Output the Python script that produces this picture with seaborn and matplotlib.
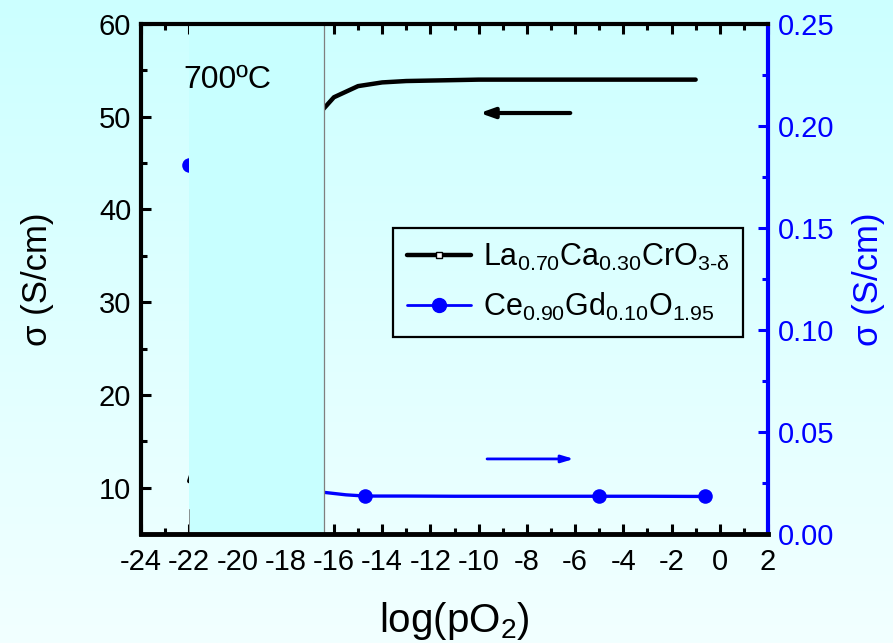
import numpy as np
import pandas as pd
import matplotlib
matplotlib.use("Agg")
import matplotlib.pyplot as plt
import seaborn as sns
from matplotlib.ticker import MultipleLocator
from matplotlib.lines import Line2D

# ---- data ----
la_x = [-22, -17, -16, -15, -14, -13, -12, -11, -10, -9, -8, -7, -6, -5, -4, -3, -2, -1]
la_y = [10.7, 49.2, 52.1, 53.3, 53.7, 53.85, 53.9, 53.95, 54.0, 54.0, 54.0, 54.0, 54.0,
        54.0, 54.0, 54.0, 54.0, 54.0]

ce_x = [-22, -17, -16.4, -15.5, -14.7, -13, -11, -9, -7, -5, -3, -0.6]
ce_y = [0.181, 0.024, 0.0204, 0.0192, 0.0186, 0.0186, 0.0185, 0.0185, 0.0185, 0.0185,
        0.0185, 0.0184]
ce_mark_x = [-22, -14.7, -5, -0.6]
ce_mark_y = [0.181, 0.0184, 0.0186, 0.0185]

xticks = list(range(-24, 3, 2))
left_ticks = [10, 20, 30, 40, 50, 60]
right_ticks = [0.00, 0.05, 0.10, 0.15, 0.20, 0.25]
label_la = r"$\mathregular{La_{0.70}Ca_{0.30}CrO_{3\text{-}\delta}}$"
label_ce = r"$\mathregular{Ce_{0.90}Gd_{0.10}O_{1.95}}$"

sns.set_theme(style="white")
plt.rcParams["font.family"] = ["Liberation Sans", "DejaVu Sans"]
plt.rcParams["mathtext.fontset"] = "custom"
plt.rcParams["mathtext.rm"] = "Liberation Sans"
plt.rcParams["mathtext.it"] = "Liberation Sans:italic"
plt.rcParams["axes.unicode_minus"] = False
for k in ["text.color", "axes.labelcolor", "xtick.color", "ytick.color"]:
    plt.rcParams[k] = "black"

W, H = 893, 643
fig = plt.figure(figsize=(W / 100, H / 100), dpi=100)

# gradient background
bg = fig.add_axes([0, 0, 1, 1], zorder=-10)
top = np.array([204, 255, 255]) / 255
bot = np.array([242, 255, 255]) / 255
t = np.linspace(0, 1, 256)[:, None, None]
grad = top * (1 - t) + bot * t
grad = np.repeat(grad, 2, axis=1)
bg.imshow(grad, aspect="auto", extent=[0, 1, 0, 1])
bg.set_axis_off()

L, R, T, B = 141, 768, 24, 534
ax = fig.add_axes([L / W, 1 - B / H, (R - L) / W, (B - T) / H])
ax.patch.set_visible(False)

blue = "#0000ff"

df_la = pd.DataFrame({"x": la_x, "y": la_y})
sns.lineplot(data=df_la, x="x", y="y", ax=ax, color="black", lw=3.2, sort=False,
             estimator=None)
ax.set_xlim(-24, 2)
ax.set_ylim(5, 60)
ax.set_xticks(xticks)
ax.set_yticks(left_ticks)
ax.xaxis.set_minor_locator(MultipleLocator(1))
ax.yaxis.set_minor_locator(MultipleLocator(5))
ax.tick_params(axis="both", which="both", direction="in", top=True, bottom=True,
               left=True, right=False, colors="black", labelsize=21, width=2.2)
ax.tick_params(which="major", length=7)
ax.tick_params(which="minor", length=4.5)
ax.tick_params(axis="x", pad=10)
ax.tick_params(axis="y", pad=7)
for s in ["top", "right", "bottom"]:
    ax.spines[s].set_visible(False)
ax.spines["left"].set_linewidth(3)
ax.spines["left"].set_color("black")
ax.set_xlabel("log(pO$\\mathregular{_2}$)", fontsize=29, labelpad=17, color="black")
ax.set_ylabel("σ (S/cm)", fontsize=25, labelpad=32, color="black")

ax.annotate("", xy=(-9.95, 50.4), xytext=(-6.2, 50.4),
            arrowprops=dict(arrowstyle="-|>,head_length=0.7,head_width=0.25",
                            color="black", lw=3, shrinkA=0, shrinkB=0))

ax2 = ax.twinx()
ax2.patch.set_visible(False)
df_ce = pd.DataFrame({"x": ce_x, "y": ce_y})
sns.lineplot(data=df_ce, x="x", y="y", ax=ax2, color=blue, lw=2.4, sort=False,
             estimator=None)
df_cm = pd.DataFrame({"x": ce_mark_x, "y": ce_mark_y})
sns.scatterplot(data=df_cm, x="x", y="y", ax=ax2, color=blue, s=110,
                edgecolor=blue, linewidth=0, zorder=2.2)
ax2.set_ylim(0, 0.25)
ax2.set_xlim(-24, 2)
ax2.set_yticks(right_ticks)
ax2.set_yticklabels([f"{v:.2f}" for v in right_ticks])
ax2.yaxis.set_minor_locator(MultipleLocator(0.025))
ax2.tick_params(axis="y", which="both", direction="in", colors=blue, labelsize=21,
                width=2.2, left=False, right=True, pad=7)
ax2.tick_params(axis="y", which="major", length=7)
ax2.tick_params(axis="y", which="minor", length=4.5)
ax2.set_ylabel("σ (S/cm)", fontsize=25, color=blue, labelpad=13)
ax2.spines["left"].set_visible(False)
ax2.spines["right"].set_color(blue)
ax2.spines["right"].set_linewidth(3)
ax2.spines["top"].set_color("black")
ax2.spines["top"].set_linewidth(3)
ax2.spines["bottom"].set_color("black")
ax2.spines["bottom"].set_linewidth(3.5)
for s in ["right", "top", "bottom"]:
    ax2.spines[s].set_zorder(5)

ax2.annotate("", xy=(-6.05, 0.0368), xytext=(-9.65, 0.0368),
             arrowprops=dict(arrowstyle="-|>,head_length=0.6,head_width=0.18",
                             color=blue, lw=2, shrinkA=0, shrinkB=0))

# shaded window covering part of the data
ax2.axvspan(-22, -16.4, color="#c8ffff", zorder=3, lw=0)
ax2.axvline(-16.4, color="#7f7f7f", lw=0.9, zorder=3.1)
ax2.axvline(-22, ymax=0.05, color="#7f7f7f", lw=0.6, zorder=3.1)

ax2.text(0.067, 0.874, "700ºC", transform=ax2.transAxes, fontsize=23,
         ha="left", va="baseline", zorder=6, color="black")

h1 = Line2D([], [], color="black", lw=3.2, marker="s", markersize=4,
            markerfacecolor="white", markeredgecolor="black", markeredgewidth=1)
h2 = Line2D([], [], color=blue, lw=2, marker="o", markersize=10,
            markerfacecolor=blue, markeredgecolor=blue)
leg = ax2.legend([h1, h2], [label_la, label_ce], loc="upper left",
                 bbox_to_anchor=(0.402, 0.6), fontsize=22, frameon=True,
                 fancybox=False, facecolor="none", edgecolor="black",
                 handlelength=2.1, handletextpad=0.4, borderpad=0.45,
                 labelspacing=0.6, borderaxespad=0)
leg.get_frame().set_linewidth(1.6)
leg.get_frame().set_alpha(None)
leg.set_zorder(7)
for txt in leg.get_texts():
    txt.set_color("black")

fig.savefig("out.png", dpi=100)
